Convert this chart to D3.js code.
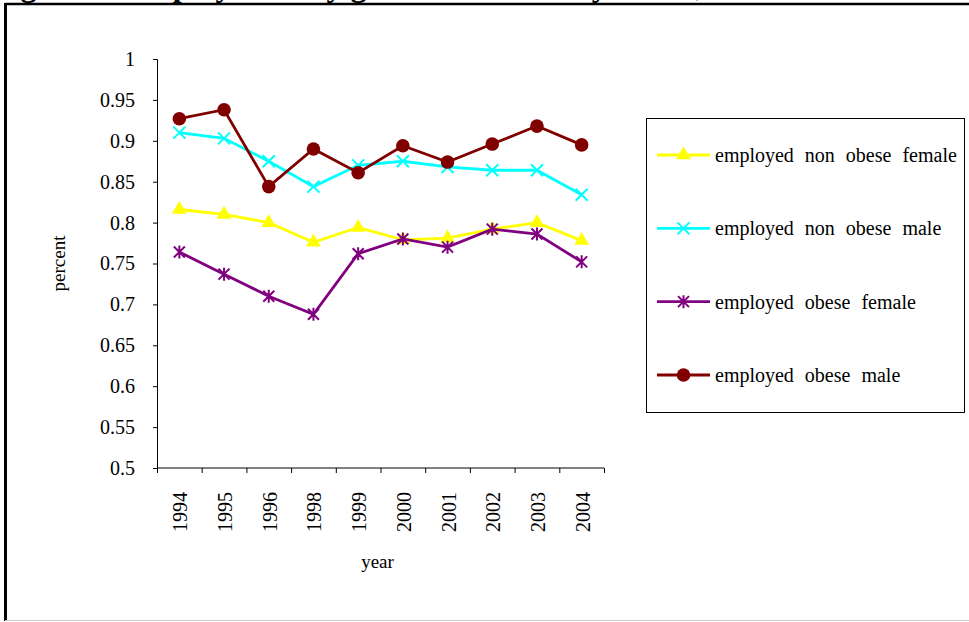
<!DOCTYPE html>
<html>
<head>
<meta charset="utf-8">
<script src="https://cdn.jsdelivr.net/npm/d3@7"></script>
<style>
  body { margin: 0; background: #fff; }
  svg { display: block; font-family: "Liberation Serif", "Times New Roman", serif; }
</style>
</head>
<body>
<svg width="969" height="622"></svg>
<script>
// chart data
var years = ["1994", "1995", "1996", "1998", "1999", "2000", "2001", "2002", "2003", "2004"];
var nonObeseFemale = [0.816, 0.810, 0.800, 0.776, 0.794, 0.779, 0.781, 0.792, 0.800, 0.778];
var nonObeseMale   = [0.910, 0.903, 0.875, 0.844, 0.870, 0.875, 0.868, 0.864, 0.864, 0.834];
var obeseFemale    = [0.764, 0.737, 0.710, 0.688, 0.762, 0.780, 0.770, 0.792, 0.786, 0.752];
var obeseMale      = [0.927, 0.938, 0.844, 0.890, 0.861, 0.894, 0.874, 0.896, 0.918, 0.895];
var yTicks = [0.5, 0.55, 0.6, 0.65, 0.7, 0.75, 0.8, 0.85, 0.9, 0.95, 1];
var seriesNames = ["employed non obese female", "employed non obese male", "employed obese female", "employed obese male"];

var series = [
  {name: seriesNames[0], values: nonObeseFemale, color: "#ffff00", marker: "triangle"},
  {name: seriesNames[1], values: nonObeseMale, color: "#00ffff", marker: "x"},
  {name: seriesNames[2], values: obeseFemale, color: "#800080", marker: "star"},
  {name: seriesNames[3], values: obeseMale, color: "#800000", marker: "circle"}
];

var svg = d3.select("svg");

// page frame; the figure title sits above it, only its descenders show
svg.append("text")
  .attr("x", -8).attr("y", -4)
  .style("font-size", "32px").style("font-weight", "bold")
  .text("Figure 3: Employment by gender and obesity status, 1994-2004");
svg.append("line").attr("x1", 5.5).attr("x2", 969).attr("y1", 4).attr("y2", 4)
  .attr("stroke", "#000").attr("stroke-width", 2.5);
svg.append("line").attr("x1", 5.5).attr("x2", 5.5).attr("y1", 3).attr("y2", 621)
  .attr("stroke", "#000").attr("stroke-width", 3);
svg.append("line").attr("x1", 5).attr("x2", 969).attr("y1", 620.5).attr("y2", 620.5)
  .attr("stroke", "#ccc").attr("stroke-width", 1);

var plotLeft = 157, plotRight = 604, plotTop = 59, plotBottom = 468;

var x = d3.scaleBand().domain(years).range([plotLeft, plotRight]).paddingInner(0).paddingOuter(0);
var xb = d3.scaleLinear().domain([0, years.length]).range([plotLeft, plotRight]);
var y = d3.scaleLinear().domain([0.5, 1]).range([plotBottom, plotTop]);

// y axis
var gy = svg.append("g").attr("transform", "translate(" + plotLeft + ",0)")
  .call(d3.axisLeft(y).tickValues(yTicks).tickSize(4).tickPadding(18).tickFormat(d3.format("")));
gy.attr("font-family", null);
gy.selectAll("text").style("font-size", "20px").attr("fill", "#000");

// x axis: boundary ticks + rotated labels
var gx = svg.append("g").attr("transform", "translate(0," + plotBottom + ")")
  .call(d3.axisBottom(xb).tickValues(d3.range(years.length + 1)).tickSize(5).tickFormat(""));
gx.select(".domain").attr("d", "M" + plotLeft + ",0H" + plotRight);

var gl = svg.append("g").attr("transform", "translate(0," + plotBottom + ")")
  .call(d3.axisBottom(x).tickSize(0).tickPadding(0));
gl.attr("font-family", null);
gl.select(".domain").remove();
gl.selectAll("text")
  .style("font-size", "20px").attr("fill", "#000")
  .attr("text-anchor", "end")
  .attr("transform", "translate(8,24) rotate(-90)")
  .attr("x", 0).attr("y", 0).attr("dy", 0);

svg.selectAll(".domain, .tick line").attr("stroke", "#000");

// axis titles
svg.append("text").attr("x", (plotLeft + plotRight) / 2 - 3).attr("y", 568)
  .attr("text-anchor", "middle").style("font-size", "19px").text("year");
svg.append("text").attr("transform", "translate(65," + ((plotTop + plotBottom) / 2) + ") rotate(-90)")
  .attr("text-anchor", "middle").style("font-size", "19px").text("percent");

// markers
function drawMarker(g, type, color) {
  if (type === "triangle") {
    g.append("path").attr("d", d3.symbol(d3.symbolTriangle, 95)()).attr("fill", color);
  } else if (type === "circle") {
    g.append("circle").attr("r", 6.8).attr("fill", color);
  } else if (type === "x") {
    g.append("path").attr("d", "M-6,-6L6,6M-6,6L6,-6").attr("stroke", color).attr("stroke-width", 2).attr("fill", "none");
  } else {
    g.append("path").attr("d", "M-5.5,-5.5L5.5,5.5M-5.5,5.5L5.5,-5.5M0,-6.5L0,6.5").attr("stroke", color).attr("stroke-width", 2).attr("fill", "none");
  }
}

var line = d3.line()
  .x(function(d, i) { return x(years[i]) + x.bandwidth() / 2; })
  .y(function(d) { return y(d); });

series.forEach(function(s) {
  svg.append("path").datum(s.values)
    .attr("d", line).attr("fill", "none")
    .attr("stroke", s.color).attr("stroke-width", 2.8);
  s.values.forEach(function(v, i) {
    var g = svg.append("g")
      .attr("transform", "translate(" + (x(years[i]) + x.bandwidth() / 2) + "," + y(v) + ")");
    drawMarker(g, s.marker, s.color);
  });
});

// legend
var lg = svg.append("g");
lg.append("rect").attr("x", 646.5).attr("y", 118.5).attr("width", 318).attr("height", 294)
  .attr("fill", "#fff").attr("stroke", "#000").attr("stroke-width", 1);
var legY = d3.scalePoint().domain(seriesNames).range([155, 375]);
series.forEach(function(s) {
  var cy = legY(s.name);
  lg.append("line").attr("x1", 657).attr("x2", 710).attr("y1", cy).attr("y2", cy)
    .attr("stroke", s.color).attr("stroke-width", 2.8);
  var g = lg.append("g").attr("transform", "translate(683.5," + cy + ")");
  drawMarker(g, s.marker, s.color);
  lg.append("text").attr("x", 715).attr("y", cy + 7)
    .style("font-size", "20px").style("word-spacing", "6px").text(s.name);
});
</script>
</body>
</html>
